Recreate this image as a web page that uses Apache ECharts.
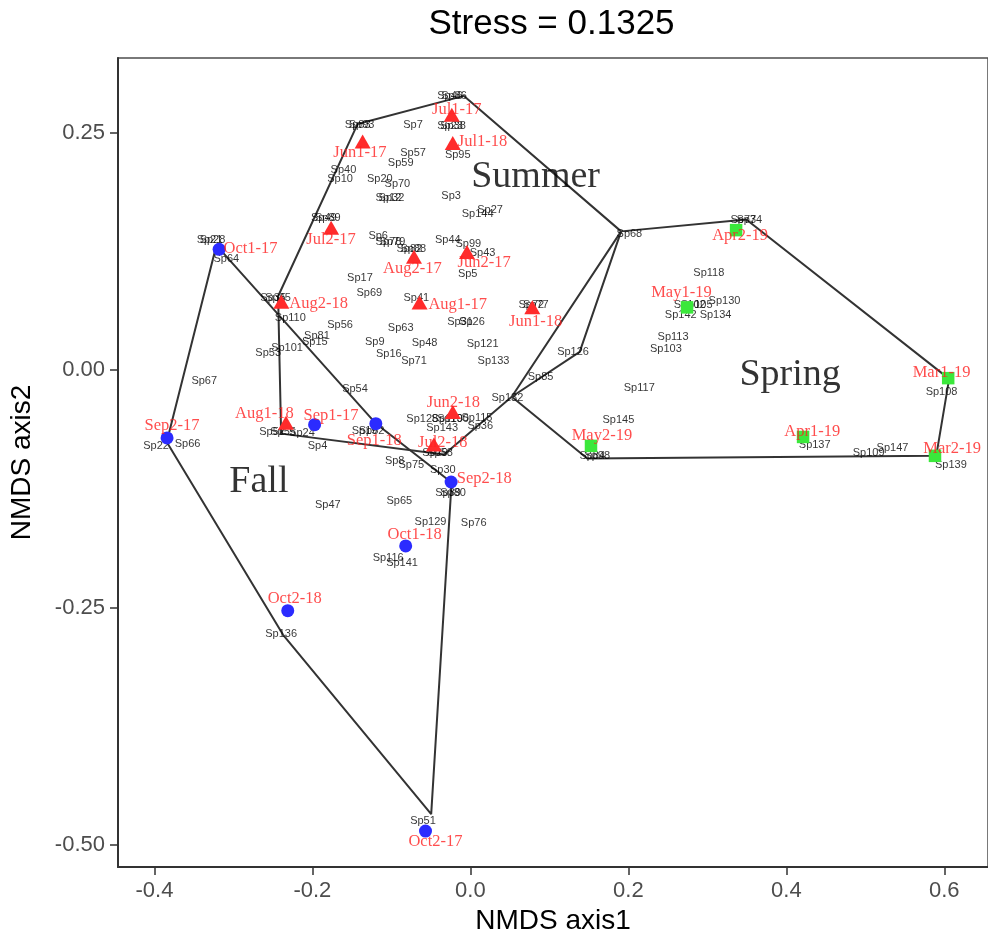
<!DOCTYPE html>
<html>
<head>
<meta charset="utf-8">
<script src="https://cdn.jsdelivr.net/npm/echarts@6/dist/echarts.min.js"></script>
<style>html,body{margin:0;padding:0;background:#fff;}#chart{width:988px;height:940px;}</style>
</head>
<body>
<div id="chart"></div>
<script>
// ---- tick labels ----
const xTicks = [-0.4, -0.2, 0, 0.2, 0.4, 0.6];
const yTicks = [-0.5, -0.25, 0, 0.25];

// ---- site scores [name, NMDS1, NMDS2] ----
const summerSites = [
  ['Jun1-17', -0.1364, 0.2406], ['Jun2-17', -0.0043, 0.1242], ['Jul1-17', -0.0235, 0.2686],
  ['Jul2-17', -0.1763, 0.1498], ['Aug1-17', -0.0643, 0.0711], ['Aug2-17', -0.0714, 0.1193],
  ['Jun1-18', 0.0784, 0.0659], ['Jun2-18', -0.0223, -0.0443], ['Jul1-18', -0.0223, 0.2389],
  ['Jul2-18', -0.0462, -0.0785], ['Aug1-18', -0.2334, -0.0555], ['Aug2-18', -0.2393, 0.0717]
];
const fallSites = [
  ['Sep1-17', -0.1972, -0.0576], ['Sep2-17', -0.3840, -0.0715], ['Oct1-17', -0.3181, 0.1270],
  ['Oct2-17', -0.0568, -0.4854], ['Sep1-18', -0.1197, -0.0565], ['Sep2-18', -0.0244, -0.1179],
  ['Oct1-18', -0.0819, -0.1852], ['Oct2-18', -0.2312, -0.2534]
];
const springSites = [
  ['Mar1-19', 0.6049, -0.0086], ['Mar2-19', 0.5882, -0.0904], ['Apr1-19', 0.4212, -0.0705],
  ['Apr2-19', 0.3364, 0.1472], ['May1-19', 0.2743, 0.0659], ['May2-19', 0.1527, -0.0799]
];

// ---- site label anchors [name, NMDS1, NMDS2] ----
const siteLabels = [
  ['Jun1-17', -0.1398, 0.2284], ['Jun2-17', 0.0175, 0.1130], ['Jul1-17', -0.0171, 0.2738],
  ['Jul2-17', -0.1763, 0.1368], ['Aug1-17', -0.0160, 0.0683], ['Aug2-17', -0.0735, 0.1068],
  ['Jun1-18', 0.0826, 0.0508], ['Jun2-18', -0.0215, -0.0348], ['Jul1-18', 0.0155, 0.2406],
  ['Jul2-18', -0.0349, -0.0764], ['Aug1-18', -0.2607, -0.0460], ['Aug2-18', -0.1922, 0.0700],
  ['Sep1-17', -0.1763, -0.0478], ['Sep2-17', -0.3777, -0.0589], ['Oct1-17', -0.2783, 0.1277],
  ['Oct2-17', -0.0442, -0.4970], ['Sep1-18', -0.1217, -0.0747], ['Sep2-18', 0.0175, -0.1142],
  ['Oct1-18', -0.0706, -0.1729], ['Oct2-18', -0.2224, -0.2408],
  ['Mar1-19', 0.5965, -0.0030], ['Mar2-19', 0.6100, -0.0827], ['Apr1-19', 0.4329, -0.0646],
  ['Apr2-19', 0.3415, 0.1417], ['May1-19', 0.2672, 0.0816], ['May2-19', 0.1665, -0.0688]
];

// ---- species scores [name, NMDS1, NMDS2] ----
const species = [
  ['Sp83', -0.1427, 0.2581], ['Sp93', -0.1377, 0.2581], ['Sp7', -0.0726, 0.2581],
  ['Sp46', -0.0257, 0.2885], ['Sp86', -0.0206, 0.2885], ['Sp23', -0.0257, 0.2570],
  ['Sp38', -0.0219, 0.2570], ['Sp57', -0.0726, 0.2284], ['Sp59', -0.0882, 0.2179],
  ['Sp95', -0.0160, 0.2266], ['Sp40', -0.1607, 0.2109], ['Sp10', -0.1650, 0.2014],
  ['Sp20', -0.1147, 0.2014], ['Sp70', -0.0924, 0.1959], ['Sp12', -0.1037, 0.1812],
  ['Sp32', -0.0999, 0.1812], ['Sp3', -0.0244, 0.1829], ['Sp27', 0.0250, 0.1689],
  ['Sp144', 0.0092, 0.1644], ['Sp49', -0.1855, 0.1602], ['Sp89', -0.1805, 0.1602],
  ['Sp6', -0.1167, 0.1409], ['Sp78', -0.1037, 0.1351], ['Sp79', -0.0987, 0.1351],
  ['Sp82', -0.0773, 0.1277], ['Sp88', -0.0722, 0.1277], ['Sp44', -0.0286, 0.1364],
  ['Sp99', -0.0026, 0.1330], ['Sp43', 0.0155, 0.1235], ['Sp5', -0.0034, 0.1008],
  ['Sp17', -0.1398, 0.0973], ['Sp69', -0.1280, 0.0809], ['Sp41', -0.0685, 0.0756],
  ['Sp35', -0.2497, 0.0759], ['Sp45', -0.2434, 0.0759], ['Sp110', -0.2279, 0.0546],
  ['Sp56', -0.1650, 0.0476], ['Sp81', -0.1943, 0.0354], ['Sp15', -0.1969, 0.0298],
  ['Sp101', -0.2321, 0.0232], ['Sp53', -0.2560, 0.0176], ['Sp63', -0.0882, 0.0438],
  ['Sp9', -0.1210, 0.0292], ['Sp48', -0.0580, 0.0281], ['Sp16', -0.1033, 0.0169],
  ['Sp71', -0.0714, 0.0092], ['Sp31', -0.0131, 0.0508], ['Sp26', 0.0020, 0.0508],
  ['Sp121', 0.0155, 0.0274], ['Sp133', 0.0293, 0.0092], ['Sp72', 0.0772, 0.0683],
  ['Sp77', 0.0829, 0.0683], ['Sp68', 0.2013, 0.1427], ['Sp126', 0.1300, 0.0193],
  ['Sp85', 0.0889, -0.0076], ['Sp132', 0.0469, -0.0296], ['Sp73', 0.3456, 0.1577],
  ['Sp74', 0.3532, 0.1577], ['Sp118', 0.3019, 0.1026], ['Sp130', 0.3217, 0.0728],
  ['Sp102', 0.2777, 0.0683], ['Sp105', 0.2865, 0.0683], ['Sp142', 0.2663, 0.0578],
  ['Sp134', 0.3104, 0.0578], ['Sp113', 0.2566, 0.0344], ['Sp103', 0.2475, 0.0221],
  ['Sp117', 0.2138, -0.0191], ['Sp145', 0.1874, -0.0531], ['Sp84', 0.1543, -0.0904],
  ['Sp98', 0.1606, -0.0904], ['Sp137', 0.4359, -0.0785], ['Sp109', 0.5042, -0.0869],
  ['Sp147', 0.5344, -0.0820], ['Sp108', 0.5965, -0.0227], ['Sp139', 0.6083, -0.1003],
  ['Sp67', -0.3369, -0.0111], ['Sp54', -0.1461, -0.0198], ['Sp22', -0.3979, -0.0799],
  ['Sp66', -0.3580, -0.0775], ['Sp52', -0.2510, -0.0649], ['Sp55', -0.2371, -0.0649],
  ['Sp24', -0.2132, -0.0660], ['Sp4', -0.1935, -0.0799], ['Sp19', -0.1339, -0.0639],
  ['Sp62', -0.1251, -0.0639], ['Sp128', -0.0609, -0.0513], ['Sp143', -0.0357, -0.0612],
  ['Sp119', -0.0295, -0.0513], ['Sp100', -0.0219, -0.0513], ['Sp115', 0.0083, -0.0505],
  ['Sp36', 0.0125, -0.0594], ['Sp29', -0.0446, -0.0872], ['Sp58', -0.0383, -0.0872],
  ['Sp8', -0.0958, -0.0953], ['Sp75', -0.0748, -0.1003], ['Sp30', -0.0349, -0.1055],
  ['Sp39', -0.0282, -0.1299], ['Sp80', -0.0219, -0.1299], ['Sp65', -0.0899, -0.1383],
  ['Sp47', -0.1805, -0.1420], ['Sp129', -0.0505, -0.1603], ['Sp76', 0.0042, -0.1614],
  ['Sp116', -0.1041, -0.1981], ['Sp141', -0.0865, -0.2033], ['Sp136', -0.2396, -0.2778],
  ['Sp51', -0.0600, -0.4744], ['Sp21', -0.3303, 0.1368], ['Sp28', -0.3265, 0.1368],
  ['Sp64', -0.3089, 0.1172]
];

// ---- hull outlines [NMDS1, NMDS2] ----
const summerHull = [
  [-0.1427, 0.2590], [-0.0081, 0.2885], [0.1908, 0.1459], [0.1384, 0.0190],
  [0.0524, -0.0282], [-0.0332, -0.0890], [-0.2396, -0.0670], [-0.2434, 0.0776], [-0.1427, 0.2590]
];
const springHull = [
  [0.1908, 0.1459], [0.3493, 0.1584], [0.6061, -0.0094], [0.5898, -0.0902],
  [0.1480, -0.0932], [0.0524, -0.0282], [0.1908, 0.1459]
];
const fallHull = [
  [-0.3215, 0.1312], [-0.3844, -0.0759], [-0.2371, -0.2788], [-0.0496, -0.4676],
  [-0.0238, -0.1184], [-0.1201, -0.0560], [-0.3215, 0.1312]
];

// ---- group labels [text, NMDS1, NMDS2] ----
const groupLabels = [['Summer', 0.0826, 0.2030], ['Fall', -0.2677, -0.1179], ['Spring', 0.4048, -0.0057]];

const SANS = '"Liberation Sans", Arial, sans-serif';
const SERIF = '"Liberation Serif", "Times New Roman", serif';

function textSeries(data, fontSize, color, family, z) {
  return {
    type: 'scatter', data: data.map(d => ({ name: d[0], value: [d[1], d[2]] })),
    symbol: 'circle', symbolSize: 1, itemStyle: { color: 'rgba(0,0,0,0)' },
    silent: true, z: z, clip: false,
    label: { show: true, position: 'inside', formatter: p => p.name, fontSize: fontSize,
             color: color, fontFamily: family, align: 'center', verticalAlign: 'middle' }
  };
}
function siteSeries(data, symbol, size, color) {
  return {
    type: 'scatter', data: data.map(d => ({ name: d[0], value: [d[1], d[2]] })),
    symbol: symbol, symbolSize: size, itemStyle: { color: color, opacity: 1 }, z: 4, silent: true
  };
}
function hullSeries(data) {
  return {
    type: 'line', data: data, symbol: 'none', silent: true, z: 2,
    lineStyle: { color: '#333333', width: 2 }
  };
}

const chart = echarts.init(document.getElementById('chart'), null, { renderer: 'canvas' });
chart.setOption({
  animation: false,
  backgroundColor: '#ffffff',
  graphic: [{
    type: 'text', x: 551.5, y: 24,
    style: { text: 'Stress = 0.1325', font: '35px ' + SANS, fill: '#000', align: 'center', verticalAlign: 'middle' }
  }],
  grid: { left: 115, right: -2, top: 58, bottom: 70, show: true, borderColor: '#4d4d4d', borderWidth: 1.5 },
  xAxis: {
    type: 'value', min: -0.4461, max: 0.6553,
    name: 'NMDS axis1', nameLocation: 'middle', nameGap: 40,
    nameTextStyle: { fontSize: 28, color: '#000', fontFamily: SANS },
    axisLine: { show: true, onZero: false, lineStyle: { color: '#333', width: 2 } },
    axisTick: { show: true, customValues: xTicks, length: 8, lineStyle: { color: '#333', width: 1.5 } },
    axisLabel: { customValues: xTicks, formatter: v => v.toFixed(1), fontSize: 22, color: '#4d4d4d', fontFamily: SANS, margin: 13 },
    splitLine: { show: false }
  },
  yAxis: {
    type: 'value', min: -0.5232, max: 0.3284,
    name: 'NMDS axis2', nameLocation: 'middle', nameGap: 82,
    nameTextStyle: { fontSize: 28, color: '#000', fontFamily: SANS },
    axisLine: { show: true, onZero: false, lineStyle: { color: '#333', width: 2 } },
    axisTick: { show: true, customValues: yTicks, length: 8, lineStyle: { color: '#333', width: 1.5 } },
    axisLabel: { customValues: yTicks, formatter: v => v.toFixed(2), fontSize: 22, color: '#4d4d4d', fontFamily: SANS, margin: 13 },
    splitLine: { show: false }
  },
  series: [
    hullSeries(summerHull), hullSeries(springHull), hullSeries(fallHull),
    textSeries(species, 11, '#000', SANS, 3),
    siteSeries(summerSites, 'triangle', [16, 14], '#ff2b2b'),
    siteSeries(fallSites, 'circle', 13, '#2b2bff'),
    siteSeries(springSites, 'rect', 12.5, '#3be83b'),
    textSeries(siteLabels, 16.5, '#ff2020', SERIF, 5),
    textSeries(groupLabels, 38, '#000', SERIF, 6)
  ]
});
</script>
</body>
</html>
